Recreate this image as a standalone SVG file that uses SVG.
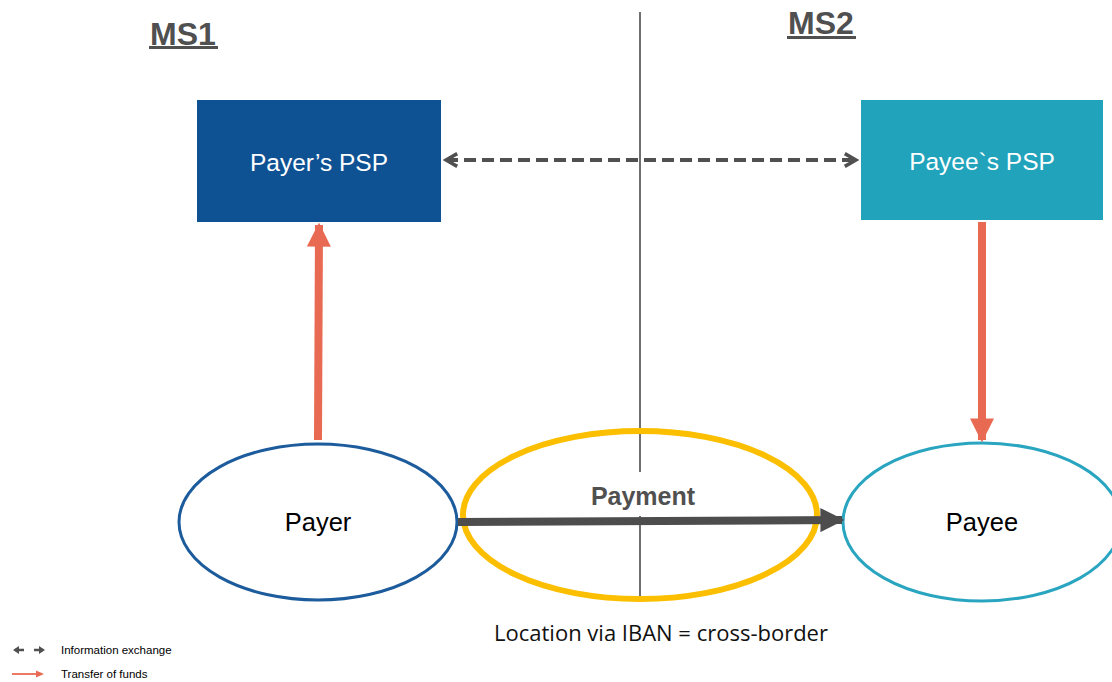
<svg xmlns="http://www.w3.org/2000/svg" width="1112" height="682" viewBox="0 0 1112 682">
<style>
.h{font-family:"Liberation Sans",Arial,sans-serif;font-weight:bold;font-size:32px;fill:#505050}
.box{font-family:"Liberation Sans",Arial,sans-serif;font-size:24.5px;fill:#fff}
.el{font-family:"Liberation Sans",Arial,sans-serif;font-size:25.5px;fill:#000}
.lg{font-family:"Liberation Sans",Arial,sans-serif;font-size:11.5px;fill:#000}
</style>
<defs>
<marker id="chev" viewBox="0 0 10 10" refX="8" refY="5" markerWidth="4" markerHeight="4" orient="auto-start-reverse" markerUnits="strokeWidth">
<path d="M1,1 L8,5 L1,9" fill="none" stroke="#505050" stroke-width="2.2"/>
</marker>
<marker id="oh" viewBox="0 0 10 10" refX="9" refY="5" markerWidth="3" markerHeight="3" orient="auto" markerUnits="strokeWidth">
<path d="M0,0 L10,5 L0,10 Z" fill="#e96a52"/>
</marker>
<marker id="dh" viewBox="0 0 10 10" refX="9" refY="5" markerWidth="3" markerHeight="3" orient="auto" markerUnits="strokeWidth">
<path d="M0,0 L10,5 L0,10 Z" fill="#4d4d4d"/>
</marker>
</defs>
<g id="border">
<line x1="640" y1="12" x2="640" y2="472" stroke="#404040" stroke-width="1.5"/>
<line x1="640" y1="516" x2="640" y2="598" stroke="#404040" stroke-width="1.5"/>
</g>
<g id="ms1"><text class="h" x="183" y="45" text-anchor="middle">MS1</text><rect x="149" y="46" width="69" height="3" fill="#505050"/></g>
<g id="ms2"><text class="h" x="821" y="34" text-anchor="middle">MS2</text><rect x="787" y="36" width="69" height="3" fill="#505050"/></g>
<g id="payerpsp"><rect x="197" y="100" width="244" height="122" fill="#0f5294"/><text class="box" x="319" y="171" text-anchor="middle">Payer’s PSP</text></g>
<g id="payeepsp"><rect x="861" y="100" width="242" height="120" fill="#22a3bc"/><text class="box" x="982" y="170" text-anchor="middle">Payee`s PSP</text></g>
<g id="payment"><ellipse cx="640" cy="515" rx="177" ry="84" fill="none" stroke="#fcbf00" stroke-width="6"/><text x="643" y="505" text-anchor="middle" style="font-family:'Liberation Sans',Arial,sans-serif;font-weight:bold;font-size:25px;fill:#505050">Payment</text></g>
<g id="payer"><ellipse cx="318" cy="522" rx="139" ry="78" fill="none" stroke="#1c5b9c" stroke-width="3"/><text class="el" x="318" y="531" text-anchor="middle">Payer</text></g>
<g id="payee"><ellipse cx="982" cy="522" rx="139" ry="79" fill="none" stroke="#2aa5c0" stroke-width="3"/><text class="el" x="982" y="531" text-anchor="middle">Payee</text></g>
<g id="connectors">
<line x1="446" y1="160" x2="856" y2="160" stroke="#505050" stroke-width="4" stroke-dasharray="12 6" marker-start="url(#chev)" marker-end="url(#chev)"/>
<line x1="318" y1="440" x2="319" y2="225" stroke="#e96a52" stroke-width="8" marker-end="url(#oh)"/>
<line x1="982" y1="222" x2="982" y2="440" stroke="#e96a52" stroke-width="8" marker-end="url(#oh)"/>
<line x1="458" y1="522" x2="842" y2="520" stroke="#4d4d4d" stroke-width="8" marker-end="url(#dh)"/>
</g>
<g id="caption"><text x="661" y="641" text-anchor="middle" style="font-family:'Open Sans','Liberation Sans',sans-serif;font-size:22px;fill:#111">Location via IBAN = cross-border</text></g>
<g id="legend">
<line x1="15" y1="650" x2="24" y2="650" stroke="#505050" stroke-width="2.5"/>
<path d="M19,646 L13,650 L19,654 Z" fill="#505050"/>
<line x1="34" y1="650" x2="43" y2="650" stroke="#505050" stroke-width="2.5"/>
<path d="M39,646 L45,650 L39,654 Z" fill="#505050"/>
<text class="lg" x="61" y="654">Information exchange</text>
<line x1="12" y1="674" x2="38" y2="674" stroke="#e96a52" stroke-width="1.8"/>
<path d="M36,670.5 L44,674 L36,677.5 Z" fill="#e96a52"/>
<text class="lg" x="61" y="678">Transfer of funds</text>
</g>
</svg>
